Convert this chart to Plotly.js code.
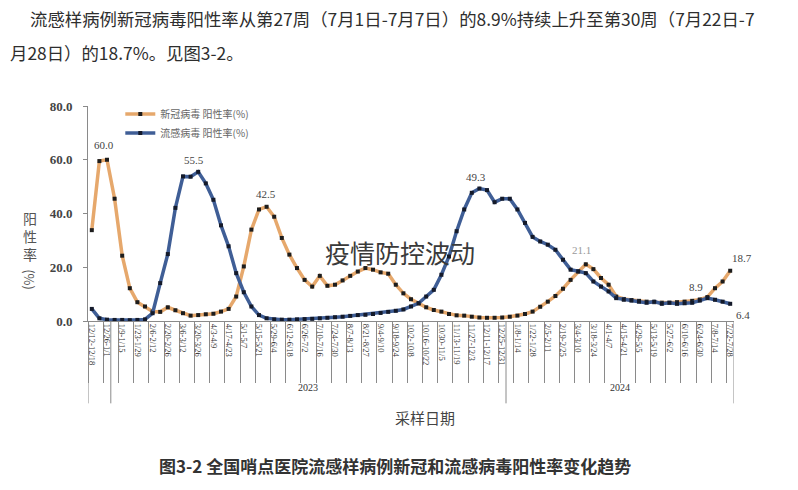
<!DOCTYPE html>
<html><head><meta charset="utf-8">
<script src="https://cdn.plot.ly/plotly-3.0.1.min.js"></script>
<style>html,body{margin:0;padding:0;background:#fff;} #chart{width:798px;height:490px;}</style>
</head><body><div id="chart"></div>
<script>
const weekLabels = [
'12/12-12/18','12/19-12/25','12/26-1/1','1/2-1/8','1/9-1/15','1/16-1/22','1/23-1/29','1/30-2/5',
'2/6-2/12','2/13-2/19','2/20-2/26','2/27-3/5','3/6-3/12','3/13-3/19','3/20-3/26','3/27-4/2',
'4/3-4/9','4/10-4/16','4/17-4/23','4/24-4/30','5/1-5/7','5/8-5/14','5/15-5/21','5/22-5/28',
'5/29-6/4','6/5-6/11','6/12-6/18','6/19-6/25','6/26-7/2','7/3-7/9','7/10-7/16','7/17-7/23',
'7/24-7/30','7/31-8/6','8/7-8/13','8/14-8/20','8/21-8/27','8/28-9/3','9/4-9/10','9/11-9/17',
'9/18-9/24','9/25-10/1','10/2-10/8','10/9-10/15','10/16-10/22','10/23-10/29','10/30-11/5','11/6-11/12',
'11/13-11/19','11/20-11/26','11/27-12/3','12/4-12/10','12/11-12/17','12/18-12/24','12/25-12/31','1/1-1/7',
'1/8-1/14','1/15-1/21','1/22-1/28','1/29-2/4','2/5-2/11','2/12-2/18','2/19-2/25','2/26-3/3',
'3/4-3/10','3/11-3/17','3/18-3/24','3/25-3/31','4/1-4/7','4/8-4/14','4/15-4/21','4/22-4/28',
'4/29-5/5','5/6-5/12','5/13-5/19','5/20-5/26','5/27-6/2','6/3-6/9','6/10-6/16','6/17-6/23',
'6/24-6/30','7/1-7/7','7/8-7/14','7/15-7/21','7/22-7/28'];

const covidRate = [
33.8,59.5,60.0,45.5,24.3,12.2,7.0,5.4,3.5,3.4,5.1,4.0,2.9,2.0,2.2,2.5,2.7,3.5,4.5,9.1,
20.3,34.0,41.5,42.5,38.8,30.9,24.7,19.7,15.3,12.8,16.8,13.1,13.5,15.1,16.8,18.4,19.7,19.1,18.1,17.6,
13.5,10.3,8.1,6.6,5.1,4.1,3.5,2.6,2.1,2.0,1.6,1.3,1.2,1.2,1.3,1.6,2.0,2.6,3.5,5.3,
7.2,9.3,12.0,15.3,18.4,21.1,19.3,16.0,13.5,9.1,8.2,7.8,7.5,7.2,7.0,6.8,6.8,7.0,7.2,7.5,
8.0,8.9,12.2,14.7,18.7];

const fluRate = [
4.5,1.0,0.5,0.4,0.4,0.3,0.4,0.6,2.9,14.1,24.9,42.1,53.8,53.7,55.5,51.2,45.1,35.6,27.8,17.8,
10.7,5.4,2.2,1.0,0.6,0.5,0.5,0.6,0.7,0.8,1.0,1.2,1.4,1.6,1.9,2.2,2.3,2.6,3.0,3.4,
3.8,4.3,5.4,6.6,9.1,11.6,17.2,24.0,33.4,41.5,47.7,49.3,48.7,44.2,45.5,45.5,41.5,36.5,31.3,29.6,
28.4,26.5,22.8,19.1,18.5,17.8,14.7,12.8,11.0,8.5,7.9,7.6,7.2,6.8,7.2,6.4,6.8,6.4,6.6,6.8,
7.6,8.5,7.9,7.2,6.4];

const seriesNames = ['新冠病毒 阳性率(%)','流感病毒 阳性率(%)'];
const yearNames = ['2022','2023','2024'];
const yearStartIdx = [0,3,55];
const covidLabelIdx = [2,23,65,81,84];
const fluLabelIdx = [14,51,84];
const yTickVals = [0,20,40,60,80];

// label placement styles (pixels)
const covidLabelShift = [[-3,15],[-1,13],[-4,14],[-11,10],[12,13]];
const covidLabelColor = ['#444','#444','#9a9a9a','#444','#444'];
const fluLabelShift = [[-4,12],[-3,12],[13,-11]];

const serif = 'Liberation Serif, Times New Roman, serif';
const cjk = 'Noto Sans CJK SC, sans-serif';

const traces = [
  {x: weekLabels, y: covidRate, type:'scatter', mode:'lines+markers', name: seriesNames[0],
   line:{color:'#E6A86C', width:3.5}, marker:{symbol:'square', size:4, color:'#1d1d1d'}},
  {x: weekLabels, y: fluRate, type:'scatter', mode:'lines+markers', name: seriesNames[1],
   line:{color:'#3F5E96', width:3.5}, marker:{symbol:'square', size:4, color:'#141a2a'}}
];

const annotations = [];
covidLabelIdx.forEach((i,k)=>{
  annotations.push({x: weekLabels[i], y: covidRate[i], xref:'x', yref:'y', text: covidRate[i].toFixed(1),
    showarrow:false, xshift: covidLabelShift[k][0], yshift: covidLabelShift[k][1],
    font:{family:serif, size:11, color:covidLabelColor[k]}});
});
fluLabelIdx.forEach((i,k)=>{
  annotations.push({x: weekLabels[i], y: fluRate[i], xref:'x', yref:'y', text: fluRate[i].toFixed(1),
    showarrow:false, xshift: fluLabelShift[k][0], yshift: fluLabelShift[k][1],
    font:{family:serif, size:11, color:'#444'}});
});

// year group labels and separators
const shapes = [];
const nWeeks = weekLabels.length;
yearNames.forEach((yr,k)=>{
  const s = yearStartIdx[k];
  const e = (k+1 < yearNames.length ? yearStartIdx[k+1] : nWeeks) - 1;
  shapes.push({type:'line', xref:'x', yref:'paper', x0: s-0.5, x1: s-0.5, y0:0, y1:-0.383,
    line:{color:'#8a8a8a', width:1}});
  if (e - s >= 6) {
    annotations.push({x:(s+e)/2, y:-0.345, xref:'x', yref:'paper', text: yr, showarrow:false,
      font:{family:serif, size:10, color:'#333'}});
  }
});
shapes.push({type:'line', xref:'x', yref:'paper', x0: nWeeks-0.5, x1: nWeeks-0.5, y0:0, y1:-0.383,
  line:{color:'#8a8a8a', width:1}});

// texts
annotations.push({xref:'paper', yref:'paper', x:-0.0929, y:1.409, xanchor:'left', yanchor:'middle', showarrow:false,
  text:'流感样病例新冠病毒阳性率从第27周（7月1日-7月7日）的8.9%持续上升至第30周（7月22日-7',
  font:{family:cjk, size:17.4, color:'#2e2e2e'}});
annotations.push({xref:'paper', yref:'paper', x:-0.1238, y:1.251, xanchor:'left', yanchor:'middle', showarrow:false,
  text:'月28日）的18.7%。见图3-2。',
  font:{family:cjk, size:17.4, color:'#2e2e2e'}});
annotations.push({xref:'paper', yref:'paper', x:0.475, y:-0.670, xanchor:'center', yanchor:'middle', showarrow:false,
  text:'图3-2 全国哨点医院流感样病例新冠和流感病毒阳性率变化趋势',
  font:{family:cjk, size:17, color:'#333', weight:'bold'}});
annotations.push({xref:'paper', yref:'paper', x:0.522, y:-0.451, xanchor:'center', yanchor:'middle', showarrow:false,
  text:'采样日期', font:{family:cjk, size:15, color:'#444'}});
annotations.push({xref:'paper', yref:'paper', x:-0.0898, y:0.395, xanchor:'center', yanchor:'middle', showarrow:false,
  text:'阳<br>性<br>率', font:{family:cjk, size:14, color:'#555'}});
annotations.push({xref:'paper', yref:'paper', x:-0.0898, y:0.19, xanchor:'center', yanchor:'middle', showarrow:false,
  text:'(%)', textangle:90, font:{family:cjk, size:13, color:'#555'}});
annotations.push({xref:'paper', yref:'paper', x:0.483, y:0.321, xanchor:'center', yanchor:'middle', showarrow:false,
  text:'疫情防控波动', font:{family:cjk, size:25, color:'#3a3a3a'}});

const layout = {
  width:798, height:490,
  margin:{l:88, r:64, t:106, b:169, pad:0},
  paper_bgcolor:'#fff', plot_bgcolor:'#fff',
  showlegend:true,
  legend:{x:0.05, y:1.03, xanchor:'left', yanchor:'top', bgcolor:'rgba(0,0,0,0)',
    font:{family:cjk, size:10, color:'#666'}, tracegroupgap:0, itemwidth:30},
  xaxis:{type:'category', tickmode:'linear', tick0:0, dtick:2, tickson:'boundaries',
    ticks:'outside', ticklen:61, tickcolor:'#8a8a8a', tickwidth:1, tickangle:90,
    showline:true, linecolor:'#8a8a8a', linewidth:1, showgrid:false, zeroline:false,
    tickfont:{family:serif, size:8.5, color:'#333'}, range:[-0.5, nWeeks-0.5]},
  yaxis:{range:[0,80], tickmode:'array', tickvals:yTickVals, tickformat:'.1f',
    ticks:'outside', ticklen:4, tickcolor:'#8a8a8a', showline:true, linecolor:'#8a8a8a', linewidth:1,
    showgrid:false, zeroline:false, ticklabelstandoff:8,
    tickfont:{family:serif, size:13, color:'#444', weight:'bold'}},
  annotations: annotations,
  shapes: shapes
};

Plotly.newPlot('chart', traces, layout, {displayModeBar:false, staticPlot:true});
</script>
</body></html>
